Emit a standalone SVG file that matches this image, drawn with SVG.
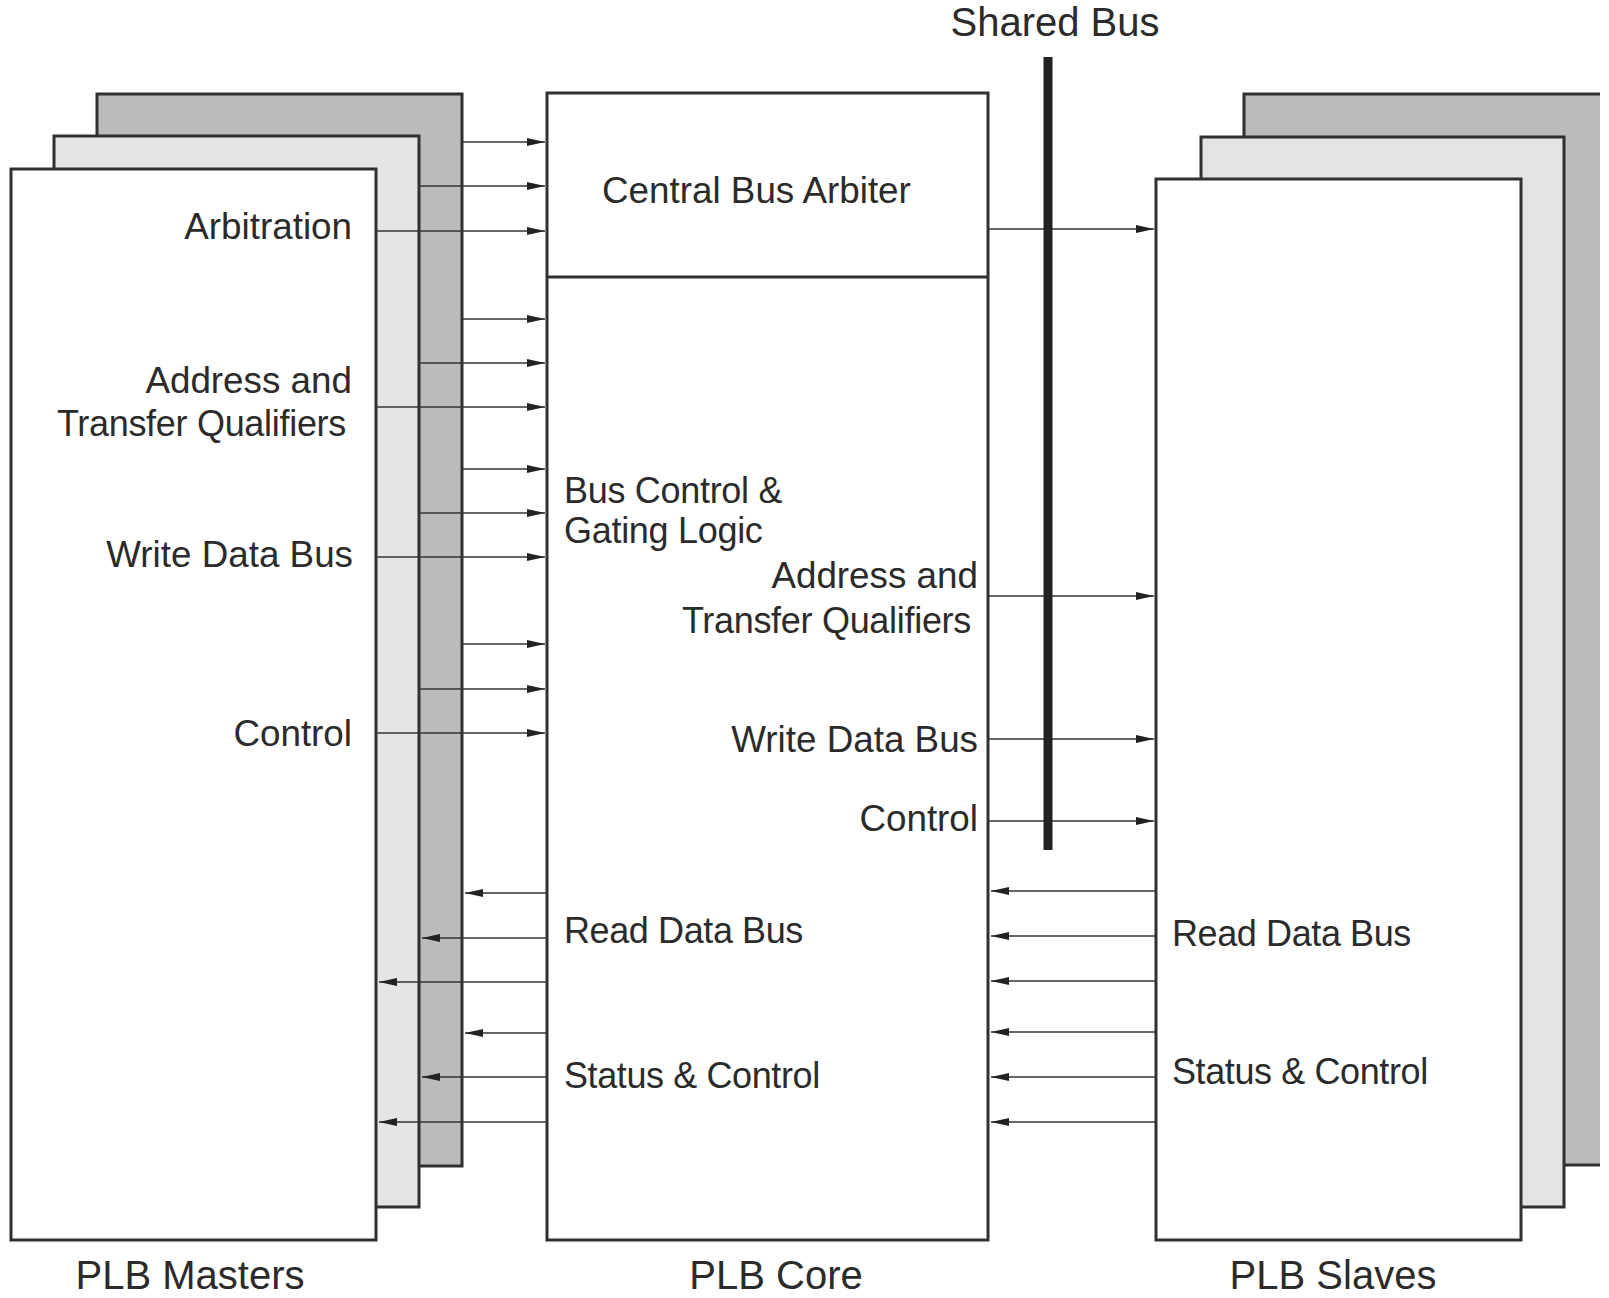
<svg xmlns="http://www.w3.org/2000/svg" width="1609" height="1298" viewBox="0 0 1609 1298">
<style>
.box{stroke:#303030;stroke-width:3}
.back{fill:#b9bbbc}
.mid{fill:#e4e4e4}
.front{fill:#ffffff}
.lbl{font-family:"Liberation Sans",Arial,sans-serif;font-size:36.8px;fill:#2b2b2b}
.sm{font-family:"Liberation Sans",Arial,sans-serif;font-size:36px;fill:#2b2b2b;letter-spacing:-0.3px}
.rd{font-family:"Liberation Sans",Arial,sans-serif;font-size:36px;fill:#2b2b2b;letter-spacing:-0.4px}
.big{font-family:"Liberation Sans",Arial,sans-serif;font-size:40px;fill:#2b2b2b}
.end{text-anchor:end}
.mida{text-anchor:middle}
.wire{stroke:#333;stroke-width:1.6;fill:none;marker-end:url(#ah)}
</style>
<defs>
<marker id="ah" markerUnits="userSpaceOnUse" markerWidth="18" markerHeight="8" refX="18" refY="4" orient="auto">
<path d="M0,0 L18,4 L0,8 z" fill="#222"/>
</marker>
</defs>
<rect width="1609" height="1298" fill="#ffffff"/>

<g id="plb-masters">
<rect class="box back" x="97" y="94" width="365" height="1072"/>
<rect class="box mid" x="54" y="136" width="365" height="1071"/>
<rect class="box front" x="11" y="169" width="365" height="1071"/>
<text class="lbl end" x="352" y="239">Arbitration</text>
<text class="lbl end" x="352" y="393">Address and</text>
<text class="sm end" x="346" y="436">Transfer Qualifiers</text>
<text class="lbl end" x="353" y="567">Write Data Bus</text>
<text class="lbl end" x="352" y="746">Control</text>
<text class="big mida" x="190" y="1289">PLB Masters</text>
</g>

<g id="plb-core">
<rect class="box front" x="547" y="93" width="441" height="1147"/>
<line class="box" x1="547" y1="277" x2="988" y2="277"/>
<text class="lbl" x="602" y="203">Central Bus Arbiter</text>
<text class="sm" x="564" y="503">Bus Control &amp;</text>
<text class="sm" x="564" y="543">Gating Logic</text>
<text class="lbl end" x="978" y="588">Address and</text>
<text class="sm end" x="971" y="633">Transfer Qualifiers</text>
<text class="lbl end" x="978" y="752">Write Data Bus</text>
<text class="lbl end" x="978" y="831">Control</text>
<text class="rd" x="564" y="943">Read Data Bus</text>
<text class="rd" x="564" y="1088">Status &amp; Control</text>
<text class="big mida" x="776" y="1289">PLB Core</text>
</g>

<g id="plb-slaves">
<rect class="back" x="1244" y="94" width="356" height="1071"/>
<path class="box" fill="none" d="M1600,94 H1244 V1165 H1600"/>
<rect class="box mid" x="1201" y="137" width="363" height="1070"/>
<rect class="box front" x="1156" y="179" width="365" height="1061"/>
<text class="rd" x="1172" y="946">Read Data Bus</text>
<text class="rd" x="1172" y="1084">Status &amp; Control</text>
<text class="big mida" x="1333" y="1289">PLB Slaves</text>
</g>

<g id="connectors">
<line class="wire" x1="462" y1="142" x2="545" y2="142"/>
<line class="wire" x1="419" y1="186" x2="545" y2="186"/>
<line class="wire" x1="376" y1="231" x2="545" y2="231"/>
<line class="wire" x1="462" y1="319" x2="545" y2="319"/>
<line class="wire" x1="419" y1="363" x2="545" y2="363"/>
<line class="wire" x1="376" y1="407" x2="545" y2="407"/>
<line class="wire" x1="462" y1="469" x2="545" y2="469"/>
<line class="wire" x1="419" y1="513" x2="545" y2="513"/>
<line class="wire" x1="376" y1="557" x2="545" y2="557"/>
<line class="wire" x1="462" y1="644" x2="545" y2="644"/>
<line class="wire" x1="419" y1="689" x2="545" y2="689"/>
<line class="wire" x1="376" y1="733" x2="545" y2="733"/>

<line class="wire" x1="547" y1="893" x2="465" y2="893"/>
<line class="wire" x1="547" y1="938" x2="422" y2="938"/>
<line class="wire" x1="547" y1="982" x2="379" y2="982"/>
<line class="wire" x1="547" y1="1033" x2="465" y2="1033"/>
<line class="wire" x1="547" y1="1077" x2="422" y2="1077"/>
<line class="wire" x1="547" y1="1122" x2="379" y2="1122"/>

<line class="wire" x1="988" y1="229" x2="1154" y2="229"/>
<line class="wire" x1="988" y1="596" x2="1154" y2="596"/>
<line class="wire" x1="988" y1="739" x2="1154" y2="739"/>
<line class="wire" x1="988" y1="821" x2="1154" y2="821"/>

<line class="wire" x1="1156" y1="891" x2="991" y2="891"/>
<line class="wire" x1="1156" y1="936" x2="991" y2="936"/>
<line class="wire" x1="1156" y1="981" x2="991" y2="981"/>
<line class="wire" x1="1156" y1="1032" x2="991" y2="1032"/>
<line class="wire" x1="1156" y1="1077" x2="991" y2="1077"/>
<line class="wire" x1="1156" y1="1122" x2="991" y2="1122"/>
</g>

<g id="shared-bus">
<rect x="1043.5" y="57" width="9" height="793" fill="#222"/>
<text class="big mida" x="1055" y="36">Shared Bus</text>
</g>
</svg>
